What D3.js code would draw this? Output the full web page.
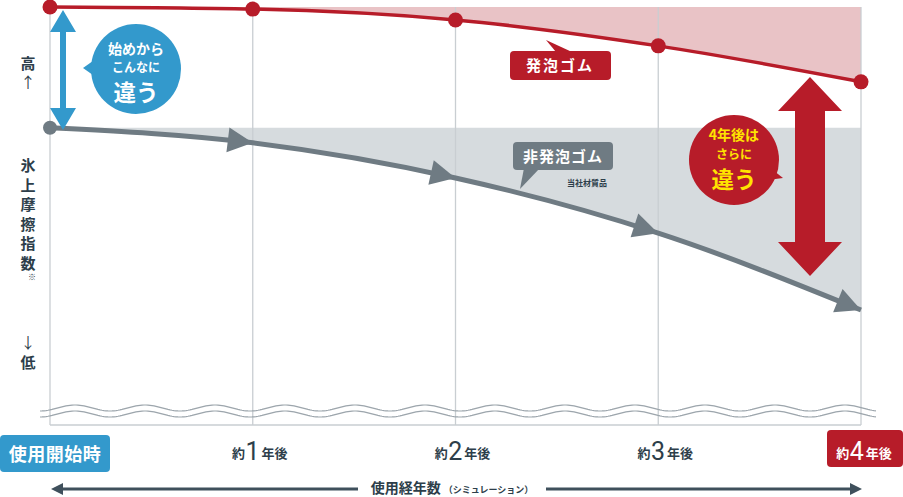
<!DOCTYPE html>
<html><head><meta charset="utf-8">
<script src="https://cdn.jsdelivr.net/npm/d3@7"></script>
<style>
html,body{margin:0;padding:0;background:#fff;}
svg{display:block;font-family:"Noto Sans CJK JP","Noto Sans",sans-serif;}
</style></head>
<body>
<svg id="c" width="903" height="497"></svg>
<script>
// ---- data ----
const years = [0, 1, 2, 3, 4];
const yearLabels = ["使用開始時", "1", "2", "3", "4"];
const foamValues = [100, 99.5, 96.9, 90.7, 82.1];      // 発泡ゴム
const nonFoamValues = [71.1, 67.5, 59.1, 45.9, 27.5];  // 非発泡ゴム

const RED = "#b71c29", PINK = "#e9c3c6", GRAY = "#6f7b83", GFILL = "#d6dbde",
      BLUE = "#3399cc", INK = "#2d3e4a", GRID = "#c9ced2", YEL = "#ffe400";

const svg = d3.select("#c");
const x = d3.scaleLinear().domain([0, 4]).range([50, 861]);
const y = d3.scaleLinear().domain([0, 100]).range([425, 7]);

const foam = years.map((d, i) => [d, foamValues[i]]);
const non = years.map((d, i) => [d, nonFoamValues[i]]);
const curve = d3.curveMonotoneX;

// fills
svg.append("path").attr("fill", PINK)
  .attr("d", d3.area().curve(curve).x(d => x(d[0])).y0(y(100)).y1(d => y(d[1]))(foam));
svg.append("path").attr("fill", GFILL)
  .attr("d", d3.area().curve(curve).x(d => x(d[0])).y0(y(nonFoamValues[0])).y1(d => y(d[1]))(non));

// grid lines
const g = svg.append("g");
years.forEach(d => {
  g.append("line").attr("x1", x(d)).attr("x2", x(d)).attr("y1", y(100)).attr("y2", 425)
    .attr("stroke", GRID).attr("stroke-width", 1.3);
});
g.append("line").attr("x1", x(0)).attr("x2", x(4)).attr("y1", 425).attr("y2", 425).attr("stroke", GRID).attr("stroke-width", 1.3);

// wave
function wave(y0) {
  const pts = [];
  for (let px = 40; px <= 877; px += 2) pts.push([px, y0 + 3 * Math.cos((px - 40) / 70 * 2 * Math.PI)]);
  return d3.line()(pts);
}
svg.append("path").attr("d", wave(408)).attr("fill", "none").attr("stroke", "#9ca5ac").attr("stroke-width", 1.2);
svg.append("path").attr("d", wave(414)).attr("fill", "none").attr("stroke", "#9ca5ac").attr("stroke-width", 1.2);

// gray line with arrowheads
const lineGen = d3.line().curve(curve).x(d => x(d[0])).y(d => y(d[1]));
const gp = svg.append("path").attr("d", lineGen(non)).attr("fill", "none").attr("stroke", GRAY).attr("stroke-width", 5);
const node = gp.node(), total = node.getTotalLength();
function lenAtX(tx) {
  let lo = 0, hi = total;
  for (let k = 0; k < 40; k++) { const m = (lo + hi) / 2; if (node.getPointAtLength(m).x < tx) lo = m; else hi = m; }
  return (lo + hi) / 2;
}
non.slice(1).forEach(d => {
  const L = lenAtX(x(d[0]));
  const p = node.getPointAtLength(L), q = node.getPointAtLength(Math.max(0, L - 8));
  const ang = Math.atan2(p.y - q.y, p.x - q.x) * 180 / Math.PI;
  svg.append("path").attr("d", "M0,0 L-25,-12.5 L-25,12.5 Z").attr("fill", GRAY)
    .attr("transform", `translate(${p.x},${p.y}) rotate(${ang})`);
});
svg.append("circle").attr("cx", x(0)).attr("cy", y(nonFoamValues[0])).attr("r", 7).attr("fill", GRAY);

// red line
svg.append("path").attr("d", lineGen(foam)).attr("fill", "none").attr("stroke", RED).attr("stroke-width", 3.5);
svg.selectAll(".rdot").data(foam).join("circle").attr("cx", d => x(d[0])).attr("cy", d => y(d[1])).attr("r", 7.5).attr("fill", RED);

// double arrows
function dblArrow(cx, yTop, yBot, shaft, headW, headH, color) {
  const s = shaft / 2, h = headW / 2;
  const d = `M${cx},${yTop} L${cx + h},${yTop + headH} L${cx + s},${yTop + headH} L${cx + s},${yBot - headH} L${cx + h},${yBot - headH} L${cx},${yBot} L${cx - h},${yBot - headH} L${cx - s},${yBot - headH} L${cx - s},${yTop + headH} L${cx - h},${yTop + headH} Z`;
  svg.append("path").attr("d", d).attr("fill", color);
}
dblArrow(63, 10, 130, 6, 26, 22, BLUE);
dblArrow(810, 77, 276, 30, 64, 34, RED);

// bubbles
svg.append("path").attr("d", "M83,68 L100,56 L100,80 Z").attr("fill", BLUE);
svg.append("circle").attr("cx", 136).attr("cy", 69).attr("r", 45).attr("fill", BLUE);
const bt = svg.append("g").attr("fill", "#fff").attr("font-weight", "bold").attr("text-anchor", "middle");
bt.append("text").attr("x", 136).attr("y", 54).attr("font-size", 14).text("始めから");
bt.append("text").attr("x", 136).attr("y", 72).attr("font-size", 12).text("こんなに");
bt.append("text").attr("x", 136).attr("y", 101).attr("font-size", 22.5).text("違う");

svg.append("path").attr("d", "M783,178 L760,160 L752,182 Z").attr("fill", RED);
svg.append("circle").attr("cx", 734).attr("cy", 160).attr("r", 45).attr("fill", RED);
const rt = svg.append("g").attr("fill", YEL).attr("font-weight", "bold").attr("text-anchor", "middle");
rt.append("text").attr("x", 734).attr("y", 140).attr("font-size", 14).text("4年後は");
rt.append("text").attr("x", 734).attr("y", 158.5).attr("font-size", 12).text("さらに");
rt.append("text").attr("x", 734).attr("y", 188).attr("font-size", 22.5).text("違う");

// series labels
svg.append("path").attr("d", "M546,40 L572,52 L556,52 Z").attr("fill", RED);
svg.append("rect").attr("x", 510).attr("y", 51).attr("width", 101).attr("height", 29).attr("rx", 4).attr("fill", RED);
svg.append("text").attr("x", 560).attr("y", 71).attr("text-anchor", "middle").attr("fill", "#fff")
  .attr("font-weight", "bold").attr("font-size", 15).attr("letter-spacing", 2).text("発泡ゴム");

svg.append("path").attr("d", "M520,189 L524,168 L540,168 Z").attr("fill", GRAY);
svg.append("rect").attr("x", 513).attr("y", 142).attr("width", 100).attr("height", 28).attr("rx", 4).attr("fill", GRAY);
svg.append("text").attr("x", 563).attr("y", 162).attr("text-anchor", "middle").attr("fill", "#fff")
  .attr("font-weight", "bold").attr("font-size", 15).attr("letter-spacing", 1).text("非発泡ゴム");
svg.append("text").attr("x", 587).attr("y", 186).attr("text-anchor", "middle").attr("fill", INK)
  .attr("font-weight", "bold").attr("font-size", 8).text("当社材質品");

// y-axis labels
const yl = svg.append("g").attr("fill", INK).attr("font-weight", "bold").attr("text-anchor", "middle").attr("font-size", 15);
yl.append("text").attr("x", 28).attr("y", 69).text("高");
yl.append("text").attr("x", 28).attr("y", 88).attr("font-weight", "normal").text("↑");
"氷上摩擦指数".split("").forEach((c, i) => yl.append("text").attr("x", 28).attr("y", 171 + i * 19.5).text(c));
yl.append("text").attr("x", 32).attr("y", 280).attr("font-size", 8).attr("font-weight", "normal").text("※");
yl.append("text").attr("x", 28).attr("y", 348).attr("font-weight", "normal").text("↓");
yl.append("text").attr("x", 28).attr("y", 368).text("低");

// x labels
svg.append("rect").attr("x", 0).attr("y", 435).attr("width", 110).attr("height", 37).attr("rx", 4).attr("fill", BLUE);
svg.append("text").attr("x", 55).attr("y", 461).attr("text-anchor", "middle").attr("fill", "#fff")
  .attr("font-weight", "bold").attr("font-size", 18).attr("letter-spacing", 0.5).text(yearLabels[0]);
svg.append("rect").attr("x", 827).attr("y", 430).attr("width", 76).attr("height", 37).attr("rx", 4).attr("fill", RED);
years.slice(1).forEach(d => {
  const last = d === 4;
  const t = svg.append("text").attr("x", x(d) + (last ? 3 : 7)).attr("y", 458).attr("text-anchor", "middle")
    .attr("fill", last ? "#fff" : INK).attr("font-weight", "bold");
  t.append("tspan").attr("font-size", 13).text("約");
  t.append("tspan").attr("font-size", 25).attr("font-weight", 400).attr("font-family", "Roboto, 'Noto Sans', sans-serif")
    .attr("dy", 2).attr("dx", 0.5).text(yearLabels[d]);
  t.append("tspan").attr("font-size", 13).attr("dy", -2).attr("dx", 2).text("年後");
});

// bottom axis arrow
const ay = 489;
svg.append("line").attr("x1", 60).attr("x2", 852).attr("y1", ay).attr("y2", ay).attr("stroke", "#3f505c").attr("stroke-width", 3);
svg.append("path").attr("d", `M51,${ay} L63,${ay - 6} L63,${ay + 6} Z`).attr("fill", "#3f505c");
svg.append("path").attr("d", `M862,${ay} L850,${ay - 6} L850,${ay + 6} Z`).attr("fill", "#3f505c");
svg.append("rect").attr("x", 358).attr("y", ay - 10).attr("width", 188).attr("height", 20).attr("fill", "#fff");
const at = svg.append("text").attr("x", 452).attr("y", ay + 4).attr("text-anchor", "middle").attr("fill", INK).attr("font-weight", "bold");
at.append("tspan").attr("font-size", 14).text("使用経年数");
at.append("tspan").attr("font-size", 9).attr("dx", 3).text("（シミュレーション）");
</script>
</body></html>
